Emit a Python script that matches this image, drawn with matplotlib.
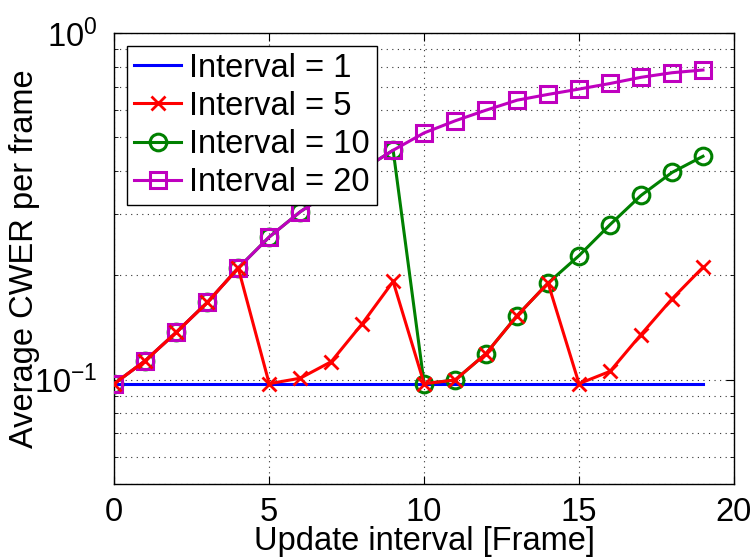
import matplotlib
matplotlib.use("Agg")
import matplotlib.pyplot as plt
from matplotlib.ticker import LogLocator, FixedLocator, NullFormatter

plt.rcParams['font.family'] = ['Liberation Sans', 'DejaVu Sans']
plt.rcParams['mathtext.fontset'] = 'custom'
plt.rcParams['mathtext.rm'] = 'Liberation Sans'
plt.rcParams['mathtext.default'] = 'regular'

# data
frames = list(range(20))
cwer_1 = [0.0974] * 20
cwer_5 = [0.0974, 0.1135, 0.137, 0.167, 0.210,
          0.0974, 0.101, 0.1127, 0.145, 0.192,
          0.0974, 0.0998, 0.119, 0.153, 0.190,
          0.0974, 0.1057, 0.135, 0.171, 0.211]
cwer_10 = [0.0974, 0.1135, 0.137, 0.167, 0.210, 0.258, 0.305, 0.350, 0.403, 0.459,
           0.0974, 0.0998, 0.119, 0.153, 0.190, 0.228, 0.280, 0.340, 0.396, 0.441]
cwer_20 = [0.0974, 0.1135, 0.137, 0.167, 0.210, 0.258, 0.305, 0.350, 0.403, 0.459,
           0.515, 0.558, 0.599, 0.640, 0.665, 0.689, 0.715, 0.745, 0.768, 0.782]
labels = ["Interval = 1", "Interval = 5", "Interval = 10", "Interval = 20"]

fs = 23.5

fig = plt.figure(figsize=(7.52, 5.59), dpi=100)
ax = fig.add_axes([0.152, 0.134, 0.824, 0.807])

lw = 2.2
ax.plot(frames, cwer_1, color=(0, 0, 1), lw=lw, label=labels[0], zorder=2)
ax.plot(frames, cwer_5, color=(1, 0, 0), lw=lw, marker='x', ms=10, mew=2,
        label=labels[1], zorder=5)
ax.plot(frames, cwer_10, color=(0, 0.5, 0), lw=lw, marker='o', ms=12, mew=2.2,
        mfc='none', label=labels[2], zorder=3)
ax.plot(frames, cwer_20, color=(0.75, 0, 0.75), lw=lw, marker='s', ms=11, mew=2.2,
        mfc='none', label=labels[3], zorder=4)

ax.set_yscale('log')
ax.set_xlim(0, 20)
ax.set_ylim(0.05, 1)
ax.xaxis.set_major_locator(FixedLocator([0, 5, 10, 15, 20]))
ax.yaxis.set_major_locator(FixedLocator([0.1, 1]))
ax.set_yticklabels([r'$10^{-1}$', r'$10^{0}$'])
ax.yaxis.set_minor_locator(LogLocator(base=10, subs=range(2, 10), numticks=20))
ax.yaxis.set_minor_formatter(NullFormatter())

ax.tick_params(which='both', direction='in', top=True, right=True, labelsize=fs)
ax.tick_params(which='major', length=6, width=0.8)
ax.tick_params(which='minor', length=3, width=0.6)
ax.tick_params(axis='x', pad=9)
ax.tick_params(axis='y', pad=12)
ax.grid(True, which='major', linestyle=(0, (1, 4)), color='0.2', lw=0.8)
ax.grid(True, which='minor', axis='y', linestyle=(0, (1, 4)), color='0.2', lw=0.8)

for s in ax.spines.values():
    s.set_linewidth(1.0)

ax.set_xlabel("Update interval [Frame]", fontsize=fs, labelpad=-1)
ax.set_ylabel("Average CWER per frame", fontsize=fs, labelpad=-4)

leg = ax.legend(loc='upper left', fontsize=fs, fancybox=False, framealpha=1,
                edgecolor='black', handlelength=1.45, borderpad=0.2,
                labelspacing=0.22, handletextpad=0.25, borderaxespad=0.4)
leg.get_frame().set_linewidth(1.0)

fig.savefig("out.png", dpi=100)
